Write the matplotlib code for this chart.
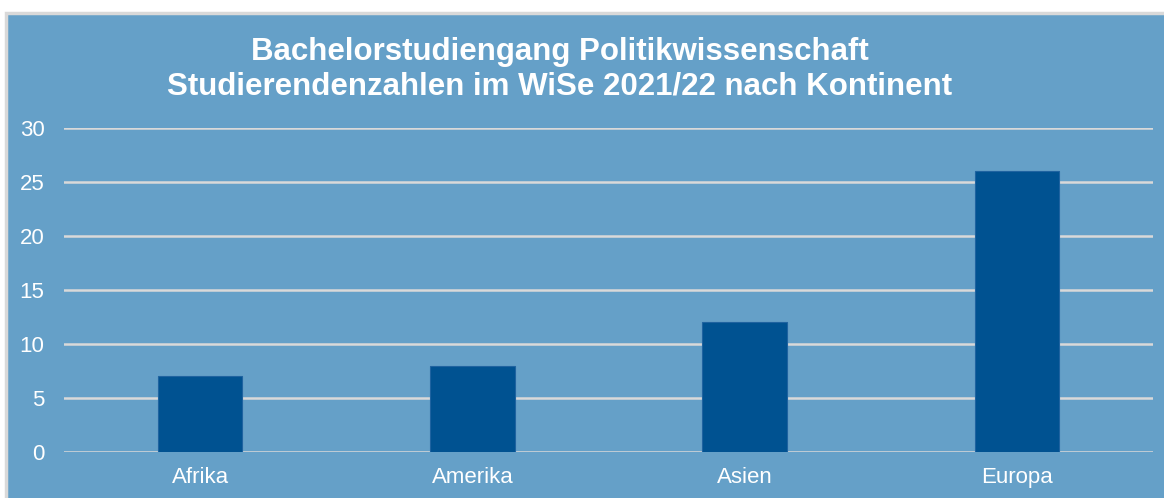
import matplotlib.pyplot as plt
from matplotlib.patches import Rectangle

plt.rcParams['font.family'] = ['Liberation Sans', 'DejaVu Sans']

kontinente = ['Afrika', 'Amerika', 'Asien', 'Europa']
studierende = [7, 8, 12, 26]
y_ticks = [0, 5, 10, 15, 20, 25, 30]

bg = '#65a0c8'
bar_col = '#005291'
grid_col = '#d9d9d9'

fig = plt.figure(figsize=(11.64, 4.98), dpi=100, facecolor='white')
W, H = 1164, 498

# chart area with grey frame
fig.patches.append(Rectangle((6 / W, -0.05), 1.2, (498 - 13) / H + 0.05,
                             transform=fig.transFigure, facecolor=bg,
                             edgecolor=grid_col, linewidth=2.5, zorder=-1))

ax = fig.add_axes([64 / W, (H - 452) / H, (1153 - 64) / W, (452 - 128) / H])
ax.set_zorder(2)
ax.set_facecolor('none')
x = range(len(kontinente))
ax.bar(x, studierende, width=0.31, color=bar_col, edgecolor='#1f63a0',
       linewidth=0.8, zorder=3)
ax.set_xlim(-0.5, len(kontinente) - 0.5)
ax.set_ylim(0, 30)
ax.set_yticks(y_ticks)
ax.set_xticks(list(x))
ax.set_xticklabels(kontinente)
ax.grid(axis='y', color=grid_col, linewidth=1.8, zorder=1)
ax.tick_params(axis='both', length=0, colors='white', labelsize=16)
ax.tick_params(axis='y', pad=14)
ax.tick_params(axis='x', pad=11)
for s in ax.spines.values():
    s.set_visible(False)

fig.text(560 / W, 1 - 69 / H,
         'Bachelorstudiengang Politikwissenschaft\nStudierendenzahlen im WiSe 2021/22 nach Kontinent',
         ha='center', va='center', color='white', fontsize=22.5, fontweight='bold',
         linespacing=1.2)

fig.savefig('out.png', dpi=100, facecolor='white')
